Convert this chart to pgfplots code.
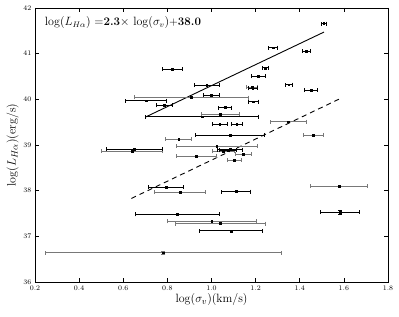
\documentclass[border=0pt]{standalone}
\usepackage{pgfplots}
\usepackage{pgfplotstable}
\pgfplotsset{compat=1.18}
\definecolor{bargray}{RGB}{120,120,120}
\pgfplotstableread{
x y ex
1.509 41.66 0.010
1.278 41.13 0.020
1.429 41.06 0.017
0.823 40.66 0.044
1.244 40.69 0.014
1.211 40.50 0.032
0.978 40.31 0.056
1.350 40.32 0.016
1.187 40.24 0.022
1.452 40.20 0.029
1.000 40.09 0.036
0.703 39.97 0.094
1.190 39.95 0.023
0.787 39.87 0.038
1.062 39.82 0.030
0.957 39.62 0.256
1.037 39.45 0.035
1.114 39.45 0.026
1.083 39.22 0.155
1.083 38.90 0.056
1.074 38.88 0.038
0.650 38.91 0.126
0.793 38.07 0.080
1.111 37.98 0.064
0.846 37.48 0.191
1.088 37.12 0.143
}\blackpts
\pgfplotstableread{
x y ex
1.184 40.27 0.024
0.908 40.04 0.259
1.041 39.67 0.087
1.349 39.51 0.080
1.460 39.22 0.045
0.851 39.13 0.059
1.024 38.98 0.184
1.053 38.86 0.050
1.144 38.80 0.035
0.931 38.76 0.090
1.104 38.67 0.030
0.639 38.87 0.137
0.858 37.97 0.115
1.577 38.10 0.128
1.001 37.33 0.202
1.040 37.28 0.203
}\graypts
\pgfplotstableread{
x y ex ey
1.582 37.53 0.088 0.04
}\blackyerr
\pgfplotstableread{
x y ex ey
0.782 36.64 0.534 0.04
}\grayyerr
\pgfplotstableread{
x y
0.700 39.610
1.510 41.473
}\solidline
\pgfplotstableread{
x y
0.637 37.830
1.585 40.020
}\dashline
\begin{document}
\begin{tikzpicture}
\begin{axis}[name=ax, width=353pt, height=274pt, scale only axis,
  xmin=0.2, xmax=1.8, ymin=36, ymax=42,
  xtick={0.2,0.4,0.6,0.8,1.0,1.2,1.4,1.6,1.8},
  ytick={36,37,38,39,40,41,42},
  xticklabel style={/pgf/number format/.cd,fixed,fixed zerofill,precision=1},
  tick label style={font=\fontsize{7.5}{8}\selectfont},
  xlabel={$\log(\sigma_v)(\mathrm{km/s})$},
  ylabel={$\log(L_{H\alpha})(\mathrm{erg/s})$},
  label style={font=\fontsize{12.5}{14}\selectfont},
  xlabel style={yshift=3pt},
  ylabel style={yshift=-2pt},
  axis line style={line width=0.8pt},
  major tick length=4pt,
  tick style={line width=0.6pt, black},
]
\addplot[black, line width=0.9pt] table[x=x,y=y] {\solidline};
\addplot[black, line width=0.9pt, dash pattern=on 5pt off 4pt] table[x=x,y=y] {\dashline};
\addplot[only marks, mark=square*, mark size=0.9pt, bargray, mark options={black},
  error bars/.cd, x dir=both, x explicit,
  error bar style={bargray, line width=0.8pt},
  error mark options={rotate=90, mark size=2pt, bargray, line width=0.8pt}]
  table[x=x, y=y, x error=ex] {\graypts};
\addplot[only marks, mark=square*, mark size=0.9pt, black,
  error bars/.cd, x dir=both, x explicit,
  error bar style={black, line width=0.8pt},
  error mark options={rotate=90, mark size=2pt, black, line width=0.8pt}]
  table[x=x, y=y, x error=ex] {\blackpts};
\addplot[only marks, mark=square*, mark size=0.9pt, black,
  error bars/.cd, x dir=both, x explicit, y dir=both, y explicit,
  error bar style={black, line width=0.8pt},
  error mark options={rotate=90, mark size=2pt, black, line width=0.8pt}]
  table[x=x, y=y, x error=ex, y error=ey] {\blackyerr};
\addplot[only marks, mark=square*, mark size=0.9pt, bargray, mark options={black},
  error bars/.cd, x dir=both, x explicit, y dir=both, y explicit,
  error bar style={bargray, line width=0.8pt},
  error mark options={rotate=90, mark size=2pt, bargray, line width=0.8pt}]
  table[x=x, y=y, x error=ex, y error=ey] {\grayyerr};
\node[anchor=west, font=\fontsize{11.5}{13}\selectfont] at (rel axis cs:0.018,0.948)
  {$\log(L_{H\alpha})$ $=$\textbf{2.3}$\times$ $\log(\sigma_v)$+\textbf{38.0}};
\end{axis}
\pgfresetboundingbox
\path ([shift={(-35pt,-35pt)}]ax.south west) rectangle ([shift={(11pt,8pt)}]ax.north east);
\end{tikzpicture}
\end{document}
